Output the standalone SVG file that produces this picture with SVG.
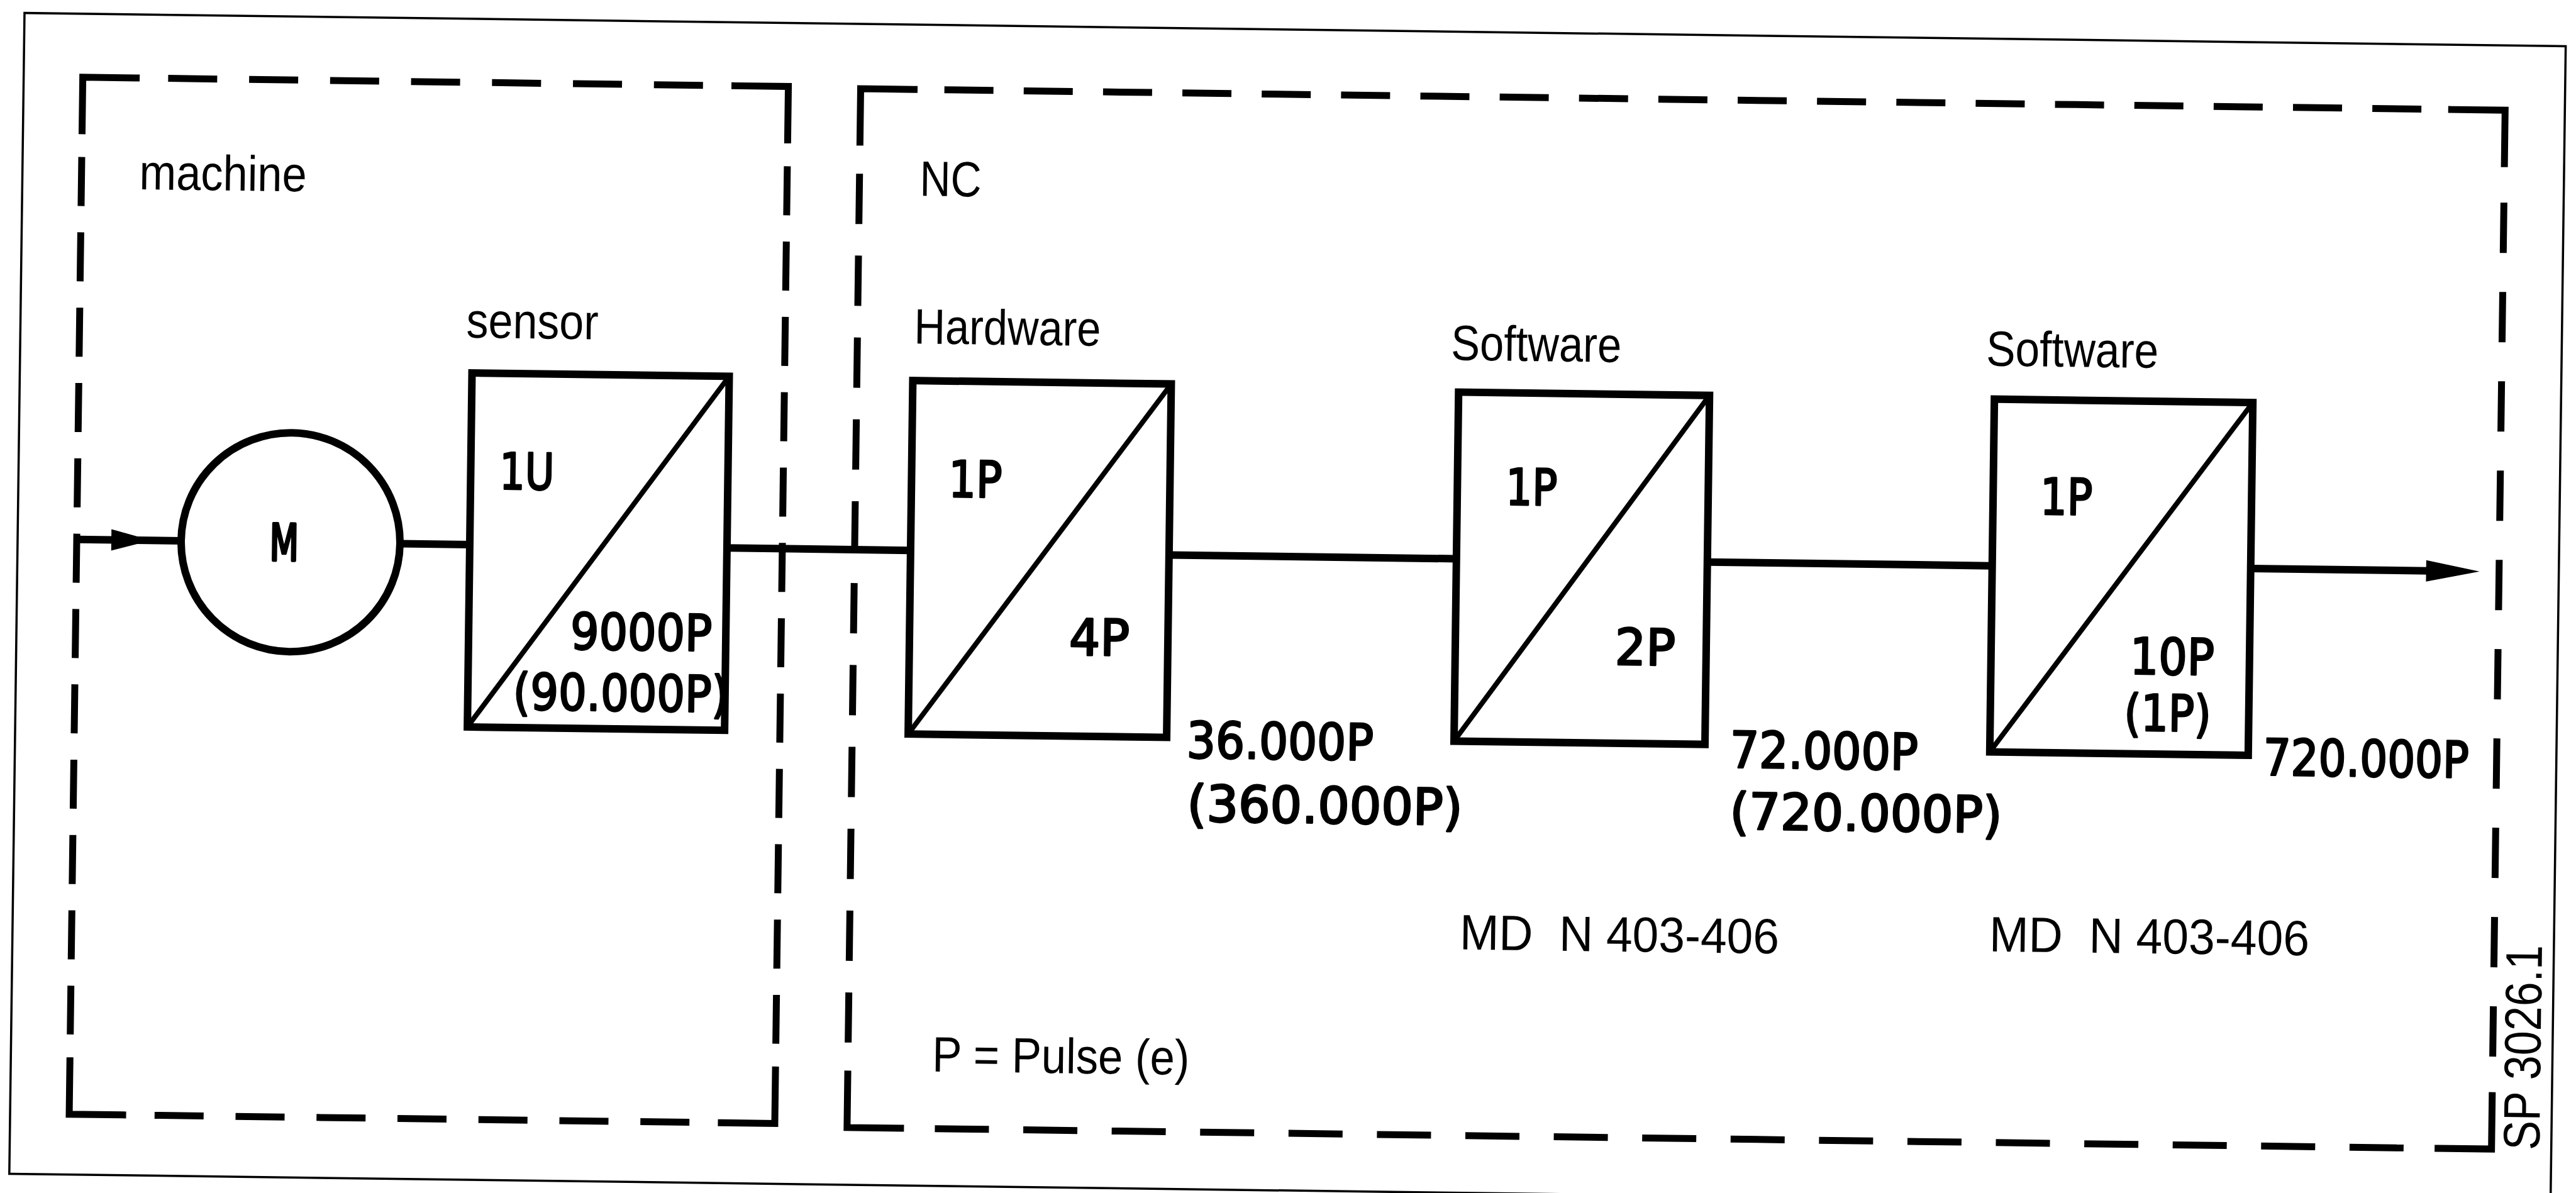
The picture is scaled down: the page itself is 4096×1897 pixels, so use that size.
<svg xmlns="http://www.w3.org/2000/svg" xmlns:xlink="http://www.w3.org/1999/xlink" width="4096" height="1897" viewBox="0 0 4096 1897">
<style>
.frame{fill:none;stroke:#000;stroke-width:3.5}
.corner{fill:none;stroke:#000;stroke-width:11;stroke-linejoin:miter;stroke-linecap:square}
.dash{fill:none;stroke:#000;stroke-width:11;stroke-linecap:butt}
.box{fill:none;stroke:#000;stroke-width:12;stroke-linejoin:miter}
.diag{stroke:#000;stroke-width:8;stroke-linecap:round}
.wire{stroke:#000;stroke-width:12;fill:none}
.motor{fill:none;stroke:#000;stroke-width:12}
.head{fill:#000;stroke:none}
.lbl{font-family:"Liberation Sans",Arial,sans-serif;font-size:79px;fill:#000;white-space:pre}
.num{font-family:"DejaVu Sans","Liberation Sans",sans-serif;font-size:80px;fill:#000;stroke:#000;stroke-width:3;stroke-linejoin:round}
</style>
<defs>
<path id="ah" class="head" d="M0,-17 L85,0 L0,17 Z"/>
</defs>
<rect width="4096" height="1897" fill="#fff"/>
<g transform="rotate(0.75 2048 948)">
<rect class="frame" x="27" y="47" width="4041" height="1846"/>

<g id="machine-boundary">
<path class="corner" d="M121,233 L121,148 L206,148 M1158,148 L1243,148 L1243,233 M121,1712 L121,1797 L206,1797 M1158,1797 L1243,1797 L1243,1712"/>
<path class="dash" stroke-dasharray="78 50.75" d="M256.75,148 H1107.25 M256.75,1797 H1107.25"/>
<path class="dash" stroke-dasharray="78 41.8" d="M121,274.8 V1670.2 M1243,274.8 V1670.2"/>
<text class="lbl" x="213" y="325" textLength="266" lengthAdjust="spacingAndGlyphs">machine</text>
</g>

<g id="nc-boundary">
<path class="corner" d="M1358,235 L1358,150 L1443,150 M3888,150 L3973,150 L3973,235 M1358,1717 L1358,1802 L1443,1802 M3888,1802 L3973,1802 L3973,1717"/>
<path class="dash" stroke-dasharray="78 48.15" d="M1491.15,150 H3839.85"/>
<path class="dash" stroke-dasharray="86 54.6" d="M1497.6,1802 H3833.4"/>
<path class="dash" stroke-dasharray="80 50.2" d="M1358,285.2 V1666.8"/>
<path class="dash" stroke-dasharray="80 62" d="M3973,297 V1655"/>
<text class="lbl" x="1454" y="319" textLength="98" lengthAdjust="spacingAndGlyphs">NC</text>
</g>

<g id="motor">
<circle class="motor" cx="461" cy="883" r="174"/>
<text class="num" x="428" y="912" textLength="46" lengthAdjust="spacingAndGlyphs" style="stroke-width:5">M</text>
</g>

<g id="sensor">
<text class="lbl" x="736" y="554" textLength="210" lengthAdjust="spacingAndGlyphs">sensor</text>
<rect class="box" x="746" y="610" width="409" height="563"/>
<line class="diag" x1="746" y1="1173" x2="1155" y2="610"/>
<text class="num" x="792" y="794" textLength="87" lengthAdjust="spacingAndGlyphs">1U</text>
<text class="num" x="908" y="1047" textLength="225" lengthAdjust="spacingAndGlyphs">9000P</text>
<text class="num" x="818" y="1144" textLength="343" lengthAdjust="spacingAndGlyphs">(90.000P)</text>
</g>

<g id="hardware">
<text class="lbl" x="1448" y="554" textLength="297" lengthAdjust="spacingAndGlyphs">Hardware</text>
<rect class="box" x="1447" y="613" width="411" height="562"/>
<line class="diag" x1="1447" y1="1175" x2="1858" y2="613"/>
<text class="num" x="1506" y="797" textLength="85" lengthAdjust="spacingAndGlyphs">1P</text>
<text class="num" x="1701" y="1046" textLength="96" lengthAdjust="spacingAndGlyphs">4P</text>
<text class="num" x="1890" y="1207" textLength="297" lengthAdjust="spacingAndGlyphs">36.000P</text>
<text class="num" x="1892" y="1308" textLength="438" lengthAdjust="spacingAndGlyphs">(360.000P)</text>
</g>

<g id="software1">
<text class="lbl" x="2302" y="569" textLength="271" lengthAdjust="spacingAndGlyphs">Software</text>
<rect class="box" x="2315" y="620" width="399" height="555"/>
<line class="diag" x1="2315" y1="1175" x2="2714" y2="620"/>
<text class="num" x="2392" y="798" textLength="82" lengthAdjust="spacingAndGlyphs">1P</text>
<text class="num" x="2569" y="1050" textLength="96" lengthAdjust="spacingAndGlyphs">2P</text>
<text class="num" x="2754" y="1211" textLength="299" lengthAdjust="spacingAndGlyphs">72.000P</text>
<text class="num" x="2755" y="1309" textLength="433" lengthAdjust="spacingAndGlyphs">(720.000P)</text>
<text class="lbl" x="2328" y="1506" textLength="508" lengthAdjust="spacingAndGlyphs" xml:space="preserve">MD  N 403-406</text>
</g>

<g id="software2">
<text class="lbl" x="3153" y="567" textLength="274" lengthAdjust="spacingAndGlyphs">Software</text>
<rect class="box" x="3167" y="620" width="411" height="561"/>
<line class="diag" x1="3167" y1="1181" x2="3578" y2="620"/>
<text class="num" x="3242" y="802" textLength="83" lengthAdjust="spacingAndGlyphs">1P</text>
<text class="num" x="3388" y="1054" textLength="134" lengthAdjust="spacingAndGlyphs">10P</text>
<text class="num" x="3380" y="1144" textLength="138" lengthAdjust="spacingAndGlyphs">(1P)</text>
<text class="num" x="3602" y="1212" textLength="327" lengthAdjust="spacingAndGlyphs">720.000P</text>
<text class="lbl" x="3170" y="1498" textLength="509" lengthAdjust="spacingAndGlyphs" xml:space="preserve">MD  N 403-406</text>
</g>

<g id="connectors">
<path class="wire" d="M121,883 H288"/>
<use xlink:href="#ah" href="#ah" transform="translate(176,883) scale(0.75,1)"/>
<path class="wire" d="M635,883 H746"/>
<path class="wire" d="M1155,883 H1447"/>
<path class="wire" d="M1858,885 H2315"/>
<path class="wire" d="M2714,885 H3167"/>
<path class="wire" d="M3578,884 H3862"/>
<use xlink:href="#ah" href="#ah" transform="translate(3857,884)"/>
</g>

<g id="notes">
<text class="lbl" x="1492" y="1711" textLength="409" lengthAdjust="spacingAndGlyphs">P = Pulse (e)</text>
<text class="lbl" style="font-size:82px" transform="translate(4049,1803) rotate(-90)" textLength="326" lengthAdjust="spacingAndGlyphs">SP 3026.1</text>
</g>
</g>
</svg>
